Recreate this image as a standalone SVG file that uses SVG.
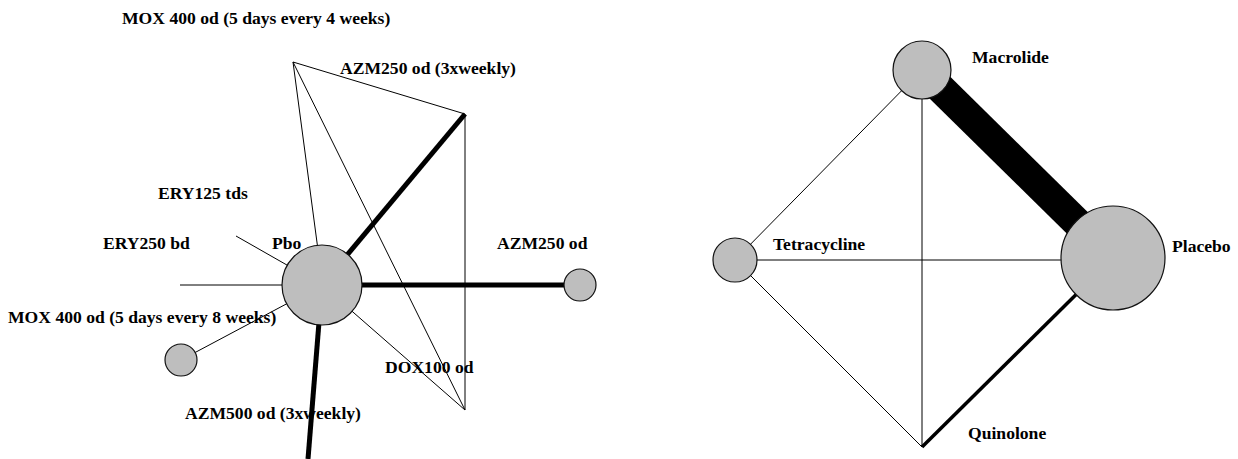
<svg xmlns="http://www.w3.org/2000/svg" width="1238" height="459" viewBox="0 0 1238 459">
<style>
.t{font-family:"Liberation Serif","Times New Roman",serif;font-weight:bold;font-size:17.6px;fill:#000}
.e{stroke:#000;stroke-width:1;fill:none}
.k{stroke:#000;stroke-width:5;fill:none}
.n{fill:#bebebe;stroke:#111;stroke-width:1.2}
</style>
<rect width="1238" height="459" fill="#fff"/>
<g id="connectors">
<line class="e" x1="293" y1="62" x2="465" y2="114"/>
<line class="e" x1="293" y1="62" x2="318" y2="250"/>
<line class="e" x1="293" y1="62" x2="465" y2="410"/>
<line class="e" x1="465" y1="114" x2="465" y2="410"/>
<line class="k" x1="322" y1="285" x2="465" y2="114"/>
<line class="e" x1="236" y1="236" x2="322" y2="285"/>
<line class="e" x1="180" y1="285" x2="322" y2="285"/>
<line class="e" x1="181" y1="360" x2="322" y2="285"/>
<line class="k" x1="322" y1="285" x2="580" y2="285"/>
<line class="e" x1="322" y1="285" x2="465" y2="410"/>
<line class="k" x1="322" y1="285" x2="308" y2="459"/>
<line class="e" x1="922" y1="70" x2="735" y2="260"/>
<line class="e" x1="922" y1="70" x2="922" y2="447"/>
<line class="e" x1="735" y1="260" x2="1113" y2="260"/>
<line class="e" x1="735" y1="260" x2="922" y2="447"/>
<line stroke="#000" stroke-width="3.5" x1="922" y1="447" x2="1113" y2="258"/>
<line stroke="#000" stroke-width="30" x1="922" y1="70" x2="1113" y2="258"/>
</g>
<g id="node-mox4w"><text class="t" x="122" y="24">MOX 400 od (5 days every 4 weeks)</text></g>
<g id="node-azm250-3x"><text class="t" x="340" y="74">AZM250 od (3xweekly)</text></g>
<g id="node-ery125"><text class="t" x="158" y="199">ERY125 tds</text></g>
<g id="node-ery250"><text class="t" x="103" y="249">ERY250 bd</text></g>
<g id="node-pbo"><circle class="n" cx="322" cy="285" r="40"/><text class="t" x="272" y="249">Pbo</text></g>
<g id="node-azm250"><circle class="n" cx="580" cy="285" r="16"/><text class="t" x="497" y="249">AZM250 od</text></g>
<g id="node-mox8w"><circle class="n" cx="181" cy="360" r="16"/><text class="t" x="8" y="323">MOX 400 od (5 days every 8 weeks)</text></g>
<g id="node-dox100"><text class="t" x="385" y="373">DOX100 od</text></g>
<g id="node-azm500"><text class="t" x="185" y="419">AZM500 od (3xweekly)</text></g>
<g id="node-macrolide"><circle class="n" cx="922" cy="70" r="29"/><text class="t" x="972" y="63">Macrolide</text></g>
<g id="node-tetracycline"><circle class="n" cx="735" cy="260" r="22"/><text class="t" x="773" y="250">Tetracycline</text></g>
<g id="node-placebo"><circle class="n" cx="1113" cy="258" r="52"/><text class="t" x="1172" y="252">Placebo</text></g>
<g id="node-quinolone"><text class="t" x="968" y="439">Quinolone</text></g>
</svg>
